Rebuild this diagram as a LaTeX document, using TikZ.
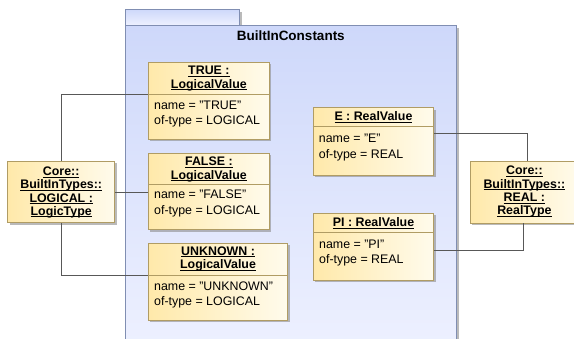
\documentclass[tikz,border=0pt]{standalone}
\usepackage{fontspec}
\setmainfont{Liberation Sans}
\usetikzlibrary{shadows}
\definecolor{objline}{RGB}{176,156,100}
\definecolor{objtop}{RGB}{255,233,170}
\definecolor{objbot}{RGB}{255,251,236}
\definecolor{pkgline}{RGB}{128,142,178}
\definecolor{pkgtop}{RGB}{206,216,250}
\definecolor{pkgbot}{RGB}{238,241,255}
\definecolor{linkgray}{RGB}{88,88,88}
\newcommand\uname[1]{\underline{\smash{#1}}}
\begin{document}
\begin{tikzpicture}[x=1pt,y=-1pt,
  obj/.style={draw=objline, line width=0.8pt, left color=objtop, right color=objbot,
    drop shadow={shadow xshift=2pt, shadow yshift=-2pt, fill=black!45, opacity=.6},
    anchor=north west, inner sep=0pt},
  pkg/.style={draw=pkgline, line width=0.8pt, top color=pkgtop, bottom color=pkgbot,
    drop shadow={shadow xshift=2.5pt, shadow yshift=-2.5pt, fill=black!45, opacity=.6},
    anchor=north west, inner sep=0pt},
  hdr/.style={font=\fontsize{12.4}{13.2}\selectfont\bfseries, align=center, anchor=base, inner sep=0pt},
  attr/.style={font=\fontsize{12.4}{15.6}\selectfont, align=left, anchor=base west, inner sep=0pt},
  sep/.style={draw=objline, line width=0.8pt},
  link/.style={draw=linkgray, line width=0.9pt}]
\useasboundingbox (0,0) rectangle (574,339);
\clip (0,0) rectangle (574,339);

% package
\node[pkg, minimum width=114pt, minimum height=16pt] (pkg-tab) at (125,9) {};
\node[pkg, minimum width=330.7pt, minimum height=330pt] (pkg) at (125,25) {};
\node[font=\fontsize{13.5}{16}\selectfont\bfseries, anchor=base, inner sep=0pt] (pkg-name) at ([yshift=-15.7pt]pkg.north) {BuiltInConstants};

% logical values
\node[obj, minimum width=121pt, minimum height=77pt] (true) at (148,62) {};
\coordinate (true-d) at ([yshift=-32.3pt]true.north west);
\draw[sep] (true-d) -- (true-d -| true.east);
\node[hdr] (true-h) at ([yshift=-26.2pt]true.north) {\uname{TRUE :}\\\uname{LogicalValue}};
\node[attr] (true-a) at ([xshift=6pt,yshift=-30.6pt]true-d) {name = "TRUE"\\of-type = LOGICAL};

\node[obj, minimum width=121pt, minimum height=76.3pt] (false) at (148,153) {};
\coordinate (false-d) at ([yshift=-31pt]false.north west);
\draw[sep] (false-d) -- (false-d -| false.east);
\node[hdr] (false-h) at ([yshift=-26.2pt]false.north) {\uname{FALSE :}\\\uname{LogicalValue}};
\node[attr] (false-a) at ([xshift=6pt,yshift=-30.6pt]false-d) {name = "FALSE"\\of-type = LOGICAL};

\node[obj, minimum width=139.3pt, minimum height=77.3pt] (unknown) at (148,242.7) {};
\coordinate (unknown-d) at ([yshift=-33pt]unknown.north west);
\draw[sep] (unknown-d) -- (unknown-d -| unknown.east);
\node[hdr] (unknown-h) at ([yshift=-25.7pt]unknown.north) {\uname{UNKNOWN :}\\\uname{LogicalValue}};
\node[attr] (unknown-a) at ([xshift=6pt,yshift=-30.1pt]unknown-d) {name = "UNKNOWN"\\of-type = LOGICAL};

% real values
\node[obj, minimum width=120.7pt, minimum height=67.7pt] (e) at (312.7,107.3) {};
\coordinate (e-d) at ([yshift=-18.7pt]e.north west);
\draw[sep] (e-d) -- (e-d -| e.east);
\node[hdr] (e-h) at ([yshift=-13.4pt]e.north) {\uname{E : RealValue}};
\node[attr] (e-a) at ([xshift=6pt,yshift=-32.1pt]e-d) {name = "E"\\of-type = REAL};

\node[obj, minimum width=120.3pt, minimum height=67.3pt] (pi) at (313,212.7) {};
\coordinate (pi-d) at ([yshift=-19.6pt]pi.north west);
\draw[sep] (pi-d) -- (pi-d -| pi.east);
\node[hdr] (pi-h) at ([yshift=-14pt]pi.north) {\uname{PI : RealValue}};
\node[attr] (pi-a) at ([xshift=6pt,yshift=-31.6pt]pi-d) {name = "PI"\\of-type = REAL};

% types
\node[obj, minimum width=107pt, minimum height=61.3pt] (logical) at (7.3,161) {};
\node[hdr] (logical-h) at ([yshift=-54.3pt]logical.north) {\uname{Core::}\\\uname{BuiltInTypes::}\\\uname{LOGICAL :}\\\uname{LogicType}};
\node[obj, minimum width=108pt, minimum height=61.7pt] (real) at (470,161) {};
\node[hdr] (real-h) at ([yshift=-53.6pt]real.north) {\uname{Core::}\\\uname{BuiltInTypes::}\\\uname{REAL :}\\\uname{RealType}};

% links
\draw[link] (logical.north) |- (true-d);
\draw[link] (logical.east) -- (logical.east -| false.west);
\draw[link] (logical.south) |- (unknown-d);
\draw[link] ([yshift=-26pt]e.north east) -| ([xshift=3pt]real.north);
\draw[link] ([yshift=-38pt]pi.north east) -| ([xshift=-1pt]real.south);
\end{tikzpicture}
\end{document}
